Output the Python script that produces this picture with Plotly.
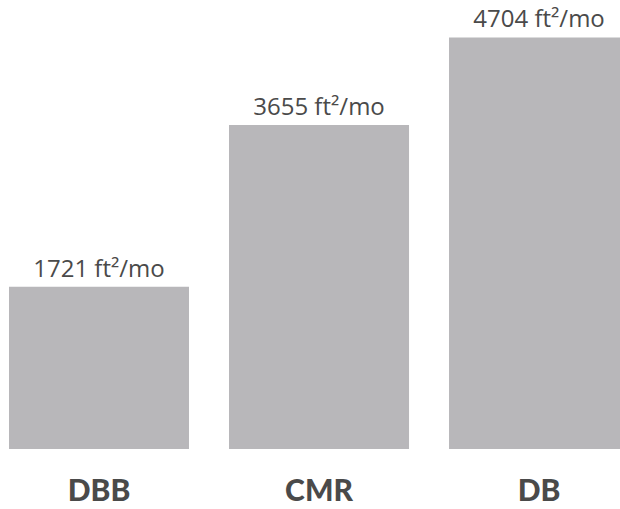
import plotly.graph_objects as go

categories = ["DBB", "CMR", "DB"]
values = [1721, 3655, 4704]
labels = [f"{v} ft²/mo" for v in values]

BAR_COLOR = "#b8b7ba"
TEXT_COLOR = "#4a4a4a"
BASE = -222
PX_PER_UNIT = 0.08354
PLOT_H = 449

fig = go.Figure(
    go.Bar(
        x=list(range(len(categories))),
        y=[v - BASE for v in values],
        base=BASE,
        marker=dict(color=BAR_COLOR, line=dict(width=0)),
        text=labels,
        textposition="outside",
        cliponaxis=False,
        textfont=dict(family="Open Sans", size=24, color=TEXT_COLOR),
        constraintext="none",
        hoverinfo="skip",
    )
)

fig.update_layout(
    width=620,
    height=509,
    margin=dict(l=0, r=0, t=0, b=60, autoexpand=False),
    paper_bgcolor="white",
    plot_bgcolor="white",
    bargap=40 / 220,
    showlegend=False,
    xaxis=dict(
        range=[-0.45, 2.368],
        tickmode="array",
        tickvals=list(range(len(categories))),
        ticktext=categories,
        tickfont=dict(family="Lato", size=30, color=TEXT_COLOR, weight=900),
        showgrid=False,
        zeroline=False,
        showline=False,
        ticks="",
        ticklabelstandoff=21,
        automargin=False,
    ),
    yaxis=dict(
        range=[BASE, BASE + PLOT_H / PX_PER_UNIT],
        visible=False,
        showgrid=False,
        zeroline=False,
        automargin=False,
    ),
)

fig.write_html("out.html")
